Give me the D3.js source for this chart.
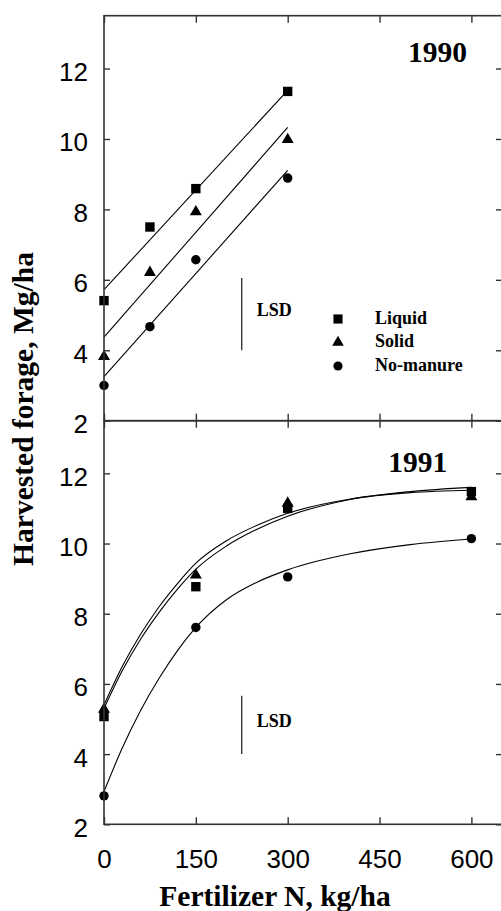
<!DOCTYPE html>
<html>
<head>
<meta charset="utf-8">
<script src="https://cdn.jsdelivr.net/npm/d3@7"></script>
<style>
  body { margin: 0; background: #fff; }
  svg { display: block; }
</style>
</head>
<body>
<svg id="chart" width="501" height="911"></svg>
<script>
// Treatments, in legend order
const series = ["Liquid", "Solid", "No-manure"];

// Axis ticks
const xTicks = [0, 150, 300, 450, 600];
const yTicks = [2, 4, 6, 8, 10, 12];

// 1990 harvest: observed yields (Mg/ha) at each N rate (kg/ha)
const n1990 = [0, 75, 150, 300];
const liquid1990 = [5.41, 7.50, 8.59, 11.35];
const solid1990 = [3.82, 6.21, 7.93, 9.98];
const noManure1990 = [3.00, 4.67, 6.57, 8.89];

// 1990 linear regression lines, values at the ends of the fitted range
const fitN1990 = [0, 300];
const liquidFit1990 = [5.72, 11.38];
const solidFit1990 = [4.37, 10.33];
const noManureFit1990 = [3.25, 9.11];

// 1991 harvest: observed yields
const n1991 = [0, 150, 300, 600];
const liquid1991 = [5.07, 8.77, 11.00, 11.48];
const solid1991 = [5.28, 9.10, 11.15, 11.33];
const noManure1991 = [2.81, 7.61, 9.05, 10.14];

// 1991 response curves
const fitN1991 = [0, 30, 60, 90, 120, 150, 200, 250, 300, 400, 500, 600];
const liquidFit1991 = [5.30, 6.38, 7.28, 8.04, 8.70, 9.27, 9.93, 10.41, 10.78, 11.25, 11.48, 11.60];
const solidFit1991 = [5.40, 6.50, 7.42, 8.20, 8.86, 9.44, 10.08, 10.52, 10.86, 11.26, 11.45, 11.52];
const noManureFit1991 = [2.93, 4.18, 5.25, 6.16, 6.95, 7.61, 8.40, 8.90, 9.25, 9.70, 9.97, 10.13];

// LSD bars: N position, lower end and length (Mg/ha)
const lsdN = [225, 225];
const lsdBase = [4.0, 4.0];
const lsdValue = [2.05, 1.66];

const years = ["1990", "1991"];

// ---------------------------------------------------------------
const svg = d3.select("#chart");
const frameColor = "#333";
const serif = "'Liberation Serif', 'Times New Roman', serif";
const sans = "'Liberation Sans', Arial, sans-serif";

const plotLeft = 104, plotRight = 502;
const panels = [
  { top: 15.7, bottom: 420.7 },
  { top: 420.7, bottom: 824.3 }
];

const x = d3.scaleLinear().domain([0, 650]).range([plotLeft, plotRight]);
const yScales = panels.map(p => d3.scaleLinear().domain([2, 13.5]).range([p.bottom, p.top]));

const symbolTypes = [d3.symbolSquare, d3.symbolTriangle, d3.symbolCircle];
const symbolSizes = [88, 62, 70];
const sym = i => d3.symbol().type(symbolTypes[i]).size(symbolSizes[i])();

const panelData = [
  {
    n: n1990, obs: [liquid1990, solid1990, noManure1990],
    fitN: fitN1990, fit: [liquidFit1990, solidFit1990, noManureFit1990],
    curve: d3.curveLinear
  },
  {
    n: n1991, obs: [liquid1991, solid1991, noManure1991],
    fitN: fitN1991, fit: [liquidFit1991, solidFit1991, noManureFit1991],
    curve: d3.curveMonotoneX
  }
];

panelData.forEach((pd, pi) => {
  const y = yScales[pi];
  const g = svg.append("g");

  // fitted lines / curves
  pd.fit.forEach((vals, si) => {
    const line = d3.line()
      .x((d, i) => x(pd.fitN[i]))
      .y(d => y(d))
      .curve(pd.curve);
    g.append("path")
      .attr("d", line(vals))
      .attr("fill", "none")
      .attr("stroke", "#000")
      .attr("stroke-width", 1.1);
  });

  // observed points
  pd.obs.forEach((vals, si) => {
    g.selectAll(null)
      .data(vals)
      .enter()
      .append("path")
      .attr("d", sym(si))
      .attr("transform", (d, i) => `translate(${x(pd.n[i])},${y(d)})`)
      .attr("fill", "#000");
  });

  // LSD bar
  g.append("line")
    .attr("x1", x(lsdN[pi])).attr("x2", x(lsdN[pi]))
    .attr("y1", y(lsdBase[pi])).attr("y2", y(lsdBase[pi] + lsdValue[pi]))
    .attr("stroke", "#000").attr("stroke-width", 1.1);
  g.append("text")
    .attr("x", x(lsdN[pi]) + 15)
    .attr("y", pi === 0 ? 316 : 727.3)
    .attr("font-family", serif)
    .attr("font-weight", "bold")
    .attr("font-size", 18)
    .text("LSD");

  // year label
  g.append("text")
    .attr("x", pi === 0 ? 408 : 388.3)
    .attr("y", pi === 0 ? 61.7 : 471.7)
    .attr("font-family", serif)
    .attr("font-weight", "bold")
    .attr("font-size", 29.5)
    .text(years[pi]);

  // axes with inward ticks
  const left = g.append("g").attr("transform", `translate(${plotLeft},0)`)
    .call(d3.axisLeft(y).tickValues(yTicks).tickSize(-6).tickPadding(16).tickFormat(d3.format("d")));
  left.selectAll("text").attr("dy", "0.46em");
  const right = g.append("g").attr("transform", `translate(${plotRight},0)`)
    .call(d3.axisRight(y).tickValues(yTicks).tickSize(-6).tickFormat(""));
  const topAx = g.append("g").attr("transform", `translate(0,${panels[pi].top})`)
    .call(d3.axisTop(x).tickValues(xTicks).tickSize(-7).tickFormat(""));
  const bottomAx = g.append("g").attr("transform", `translate(0,${panels[pi].bottom})`)
    .call(d3.axisBottom(x).tickValues(xTicks).tickSize(-7).tickPadding(25.5)
      .tickFormat(pi === 1 ? d3.format("d") : ""));

  [left, right, topAx, bottomAx].forEach(a => {
    a.select(".domain").remove();
    a.selectAll(".tick line").attr("stroke", frameColor).attr("stroke-width", 1.4);
    a.selectAll("text").attr("font-family", sans).attr("font-size", 26).attr("fill", "#000");
  });

  // frame
  g.append("rect")
    .attr("x", plotLeft).attr("y", panels[pi].top)
    .attr("width", plotRight - plotLeft)
    .attr("height", panels[pi].bottom - panels[pi].top)
    .attr("fill", "none")
    .attr("stroke", frameColor)
    .attr("stroke-width", 1.6);
});

// legend (1990 panel)
const legendX = 338, legendTextX = 375;
const legendRows = [319, 342.5, 366];
series.forEach((name, i) => {
  svg.append("path")
    .attr("d", d3.symbol().type(symbolTypes[i]).size(symbolSizes[i] * 0.95)())
    .attr("transform", `translate(${legendX},${legendRows[i]})`)
    .attr("fill", "#000");
  svg.append("text")
    .attr("x", legendTextX)
    .attr("y", legendRows[i] + 4.5)
    .attr("font-family", serif)
    .attr("font-weight", "bold")
    .attr("font-size", 18)
    .text(name);
});

// axis titles
svg.append("text")
  .attr("transform", "translate(33.3,409) rotate(-90)")
  .attr("text-anchor", "middle")
  .attr("font-family", serif)
  .attr("font-weight", "bold")
  .attr("font-size", 29.5)
  .text("Harvested forage, Mg/ha");

svg.append("text")
  .attr("x", 275)
  .attr("y", 906)
  .attr("text-anchor", "middle")
  .attr("font-family", serif)
  .attr("font-weight", "bold")
  .attr("font-size", 29.5)
  .text("Fertilizer N, kg/ha");
</script>
</body>
</html>
